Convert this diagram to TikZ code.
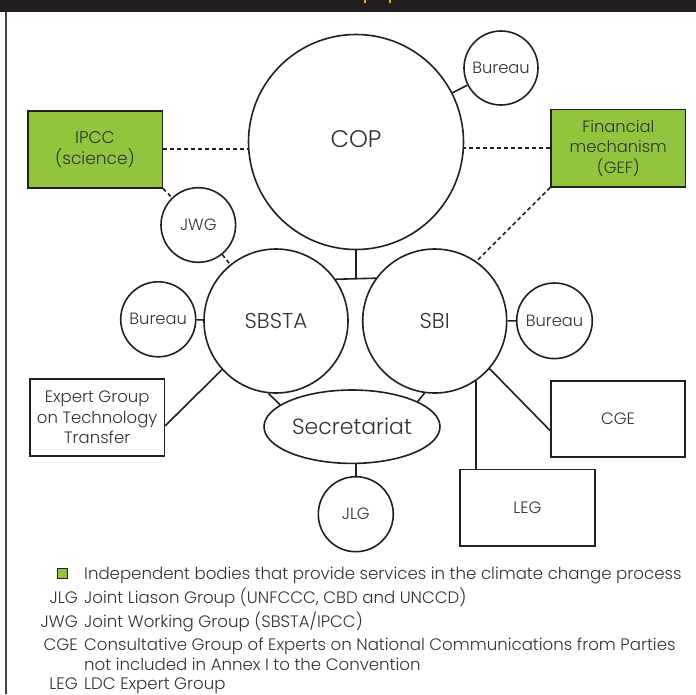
\documentclass[tikz,border=0pt]{standalone}
\usepackage{fontspec}
\setmainfont{Poppins Light}
\usetikzlibrary{shapes.geometric}
\definecolor{lc}{RGB}{35,31,32}
\definecolor{tc}{RGB}{50,50,50}
\definecolor{gr}{RGB}{146,196,62}
\definecolor{yl}{RGB}{247,168,0}
\begin{document}
\begin{tikzpicture}[x=1pt,y=-1pt,
  ln/.style={draw=lc, line width=1.6pt},
  dsh/.style={draw=lc, line width=1.6pt, dash pattern=on 4pt off 3pt},
  circ/.style={circle, draw=lc, line width=1.6pt, fill=white, inner sep=0pt, text=tc, font=\fontsize{16.3}{20}\selectfont},
  bigc/.style={circ, minimum size=144pt, font=\fontsize{21.5}{26}\selectfont},
  box/.style={rectangle, draw=lc, line width=1.6pt, inner sep=0pt, align=center, text=tc, font=\fontsize{16.5}{20.5}\selectfont},
  lgab/.style={anchor=base east, text=tc, font=\fontsize{16.6}{19}\selectfont, inner sep=0pt},
  lgtx/.style={anchor=base west, text=tc, font=\fontsize{16.6}{19}\selectfont, inner sep=0pt}]
\useasboundingbox (0,0) rectangle (696,694);
% frame
\fill[lc] (0,0) rectangle (696,12);
\fill[yl] (363.5,0) rectangle (365.5,2.5);
\fill[yl] (389,0) rectangle (391,2.5);
\draw[draw=lc!85, line width=2pt] (6,12) -- (6,694);
% nodes
\node[circ, minimum size=215pt, font=\fontsize{24}{28}\selectfont] (COP) at (356,142) {\raisebox{0pt}[\height][0pt]{COP}\rule[-6pt]{0pt}{6pt}};
\node[circ, minimum size=74pt] (BurT) at (501,68) {Bureau};
\node[box, fill=gr, minimum width=134.6pt, minimum height=77pt, font=\fontsize{17}{21}\selectfont] (IPCC) at (95,149.2) {IPCC\\(science)};
\node[box, fill=gr, minimum width=134.7pt, minimum height=77.4pt, font=\fontsize{16.3}{20.5}\selectfont] (Fin) at (618.3,148) {Financial\\mechanism\\(GEF)};
\node[circ, minimum size=74.6pt] (JWG) at (198.3,225) {JWG};
\node[bigc] (SBSTA) at (276,321) {SBSTA};
\node[bigc] (SBI) at (434.7,321) {SBI};
\node[circ, minimum size=75pt] (BurL) at (158.2,319.3) {Bureau};
\node[circ, minimum size=75.6pt] (BurR) at (554.5,320.8) {Bureau};
\node[ellipse, draw=lc, line width=1.6pt, fill=white, inner sep=0pt, minimum width=176pt, minimum height=73.4pt, text=tc, font=\fontsize{22}{24}\selectfont] (Sec) at (352,426.7) {Secretariat};
\node[circ, minimum size=75pt] (JLG) at (355.8,514.2) {JLG};
\node[box, minimum width=134.3pt, minimum height=77pt] (EG) at (97.2,417.5) {Expert Group\\on Technology\\Transfer};
\node[box, minimum width=134pt, minimum height=76pt] (CGE) at (618,418.7) {CGE};
\node[box, minimum width=135pt, minimum height=76.7pt] (LEG) at (527.5,507.7) {LEG};
% connectors
\draw[ln] (COP) -- (BurT);
\draw[dsh] (IPCC.east) -- (IPCC.east -| COP.west);
\draw[dsh] (Fin.west) -- (Fin.west -| COP.east);
\draw[dsh] (IPCC.south east) -- (JWG);
\draw[dsh] (JWG) -- (SBSTA);
\draw[dsh] (Fin.south west) -- (SBI.55);
\draw[ln] (SBSTA.35.7) -- (SBI.144.3);
\draw[ln] (COP.south) -- (COP.south |- SBSTA.35.7);
\draw[ln] (BurL) -- (SBSTA);
\draw[ln] (SBI) -- (BurR);
\draw[ln] (SBSTA.264.7) -- (Sec.163.6);
\draw[ln] (SBI.262.4) -- (Sec.21.1);
\draw[ln] (JLG.north) -- (JLG.north |- Sec.south);
\draw[ln] (SBSTA.222) -- (EG.-7.2);
\draw[ln] (SBI.-41.9) -- (CGE.190.4);
\draw[ln, line width=2pt] (SBI.-55.5) -- (SBI.-55.5 |- LEG.north);
% legend
\node[fill=gr, draw=lc, line width=1pt, minimum size=10pt, inner sep=0pt] (sq) at (62,573) {};
\node[lgtx] (l1) at (84,579) {Independent bodies that provide services in the climate change process};
\node[lgab] (a2) at (78,603) {JLG};
\node[lgtx] (l2) at (84,603) {Joint Liason Group (UNFCCC, CBD and UNCCD)};
\node[lgab] (a3) at (78,627) {JWG};
\node[lgtx] (l3) at (84,627) {Joint Working Group (SBSTA/IPCC)};
\node[lgab] (a4) at (78,650) {CGE};
\node[lgtx] (l4) at (84,650) {Consultative Group of Experts on National Communications from Parties};
\node[lgtx] (l5) at (84,670) {not included in Annex I to the Convention};
\node[lgab] (a6) at (78,689) {LEG};
\node[lgtx] (l6) at (84,689) {LDC Expert Group};
\end{tikzpicture}
\end{document}
